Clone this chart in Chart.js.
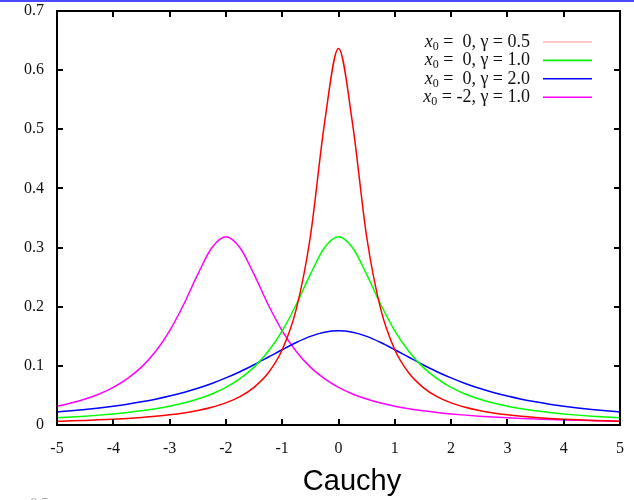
<!DOCTYPE html>
<html>
<head>
<meta charset="utf-8">
<script src="https://cdn.jsdelivr.net/npm/chart.js@4.4.0/dist/chart.umd.min.js"></script>
<style>
    html, body { margin: 0; padding: 0; background: #fff; }
    #wrap { position: relative; width: 634px; height: 500px; }
</style>
</head>
<body>
<div id="wrap"><canvas id="cauchyChart" width="634" height="500"></canvas></div>
<script>
// x positions (shared by all four curves)
const xs = [-5, -4.75, -4.5, -4.25, -4, -3.75, -3.5, -3.25, -3, -2.75, -2.5, -2.25, -2, -1.75, -1.5, -1.25, -1, -0.75, -0.5, -0.25,
    0, 0.25, 0.5, 0.75, 1, 1.25, 1.5, 1.75, 2, 2.25, 2.5, 2.75, 3, 3.25, 3.5, 3.75, 4, 4.25, 4.5, 4.75, 5];

// x0 = 0, gamma = 0.5
const redVals = [0.0063, 0.0070, 0.0078, 0.0087, 0.0098, 0.0111, 0.0127, 0.0147, 0.0172, 0.0204, 0.0245, 0.0300, 0.0374, 0.0480, 0.0637, 0.0878, 0.1273, 0.1959, 0.3183, 0.5093,
    0.6366, 0.5093, 0.3183, 0.1959, 0.1273, 0.0878, 0.0637, 0.0480, 0.0374, 0.0300, 0.0245, 0.0204, 0.0172, 0.0147, 0.0127, 0.0111, 0.0098, 0.0087, 0.0078, 0.0070, 0.0063];
// x0 = 0, gamma = 1.0
const greenVals = [0.0122, 0.0135, 0.0150, 0.0167, 0.0187, 0.0211, 0.0240, 0.0275, 0.0318, 0.0372, 0.0439, 0.0525, 0.0637, 0.0784, 0.0979, 0.1242, 0.1592, 0.2037, 0.2546, 0.2996,
    0.3183, 0.2996, 0.2546, 0.2037, 0.1592, 0.1242, 0.0979, 0.0784, 0.0637, 0.0525, 0.0439, 0.0372, 0.0318, 0.0275, 0.0240, 0.0211, 0.0187, 0.0167, 0.0150, 0.0135, 0.0122];
// x0 = 0, gamma = 2.0
const blueVals = [0.0220, 0.0240, 0.0263, 0.0289, 0.0318, 0.0352, 0.0392, 0.0437, 0.0490, 0.0551, 0.0621, 0.0702, 0.0796, 0.0901, 0.1019, 0.1145, 0.1273, 0.1395, 0.1498, 0.1567,
    0.1592, 0.1567, 0.1498, 0.1395, 0.1273, 0.1145, 0.1019, 0.0901, 0.0796, 0.0702, 0.0621, 0.0551, 0.0490, 0.0437, 0.0392, 0.0352, 0.0318, 0.0289, 0.0263, 0.0240, 0.0220];
// x0 = -2, gamma = 1.0
const magentaVals = [0.0318, 0.0372, 0.0439, 0.0525, 0.0637, 0.0784, 0.0979, 0.1242, 0.1592, 0.2037, 0.2546, 0.2996, 0.3183, 0.2996, 0.2546, 0.2037, 0.1592, 0.1242, 0.0979, 0.0784,
    0.0637, 0.0525, 0.0439, 0.0372, 0.0318, 0.0275, 0.0240, 0.0211, 0.0187, 0.0167, 0.0150, 0.0135, 0.0122, 0.0111, 0.0102, 0.0093, 0.0086, 0.0080, 0.0074, 0.0068, 0.0064];

const x0Labels = ['0', '0', '0', '-2'];
const gammaLabels = ['0.5', '1.0', '2.0', '1.0'];

const xTicks = [-5, -4, -3, -2, -1, 0, 1, 2, 3, 4, 5];
const yTicks = [0, 0.1, 0.2, 0.3, 0.4, 0.5, 0.6, 0.7];
const yTickLabels = ['0', '0.1', '0.2', '0.3', '0.4', '0.5', '0.6', '0.7'];

const lineColors = ['#ff0000', '#00ff00', '#0000ff', '#ff00ff'];
const keyColors = ['#ffb4b4', '#00f000', '#0000ff', '#ff00ff'];

const toPoints = vals => vals.map((v, i) => ({ x: xs[i], y: v }));
const serif = "'Liberation Serif', 'DejaVu Serif', serif";

// gnuplot-like frame, inward ticks, key, caption
const framePlugin = {
    id: 'frame',
    beforeDraw(chart) {
        const ctx = chart.ctx;
        ctx.save();
        ctx.fillStyle = '#fff';
        ctx.fillRect(0, 0, chart.width, chart.height);
        ctx.restore();
    },
    afterDraw(chart) {
        const ctx = chart.ctx;
        const a = chart.chartArea;
        const sx = chart.scales.x, sy = chart.scales.y;
        ctx.save();

        // ticks
        ctx.strokeStyle = '#000';
        ctx.lineWidth = 2;
        ctx.beginPath();
        xTicks.forEach(v => {
            const px = Math.round(sx.getPixelForValue(v));
            ctx.moveTo(px, a.bottom); ctx.lineTo(px, a.bottom - 6);
            ctx.moveTo(px, a.top); ctx.lineTo(px, a.top + 6);
        });
        yTicks.forEach(v => {
            const py = Math.round(sy.getPixelForValue(v));
            ctx.moveTo(a.left, py); ctx.lineTo(a.left + 6, py);
            ctx.moveTo(a.right, py); ctx.lineTo(a.right - 6, py);
        });
        ctx.stroke();

        // border
        ctx.strokeRect(a.left, a.top, a.right - a.left, a.bottom - a.top);

        // key
        const keyRight = 530;
        x0Labels.forEach((x0, i) => {
            const y = 42 + i * 18.4;
            const rest = ' = ' + (x0.length === 1 ? ' ' + x0 : x0) + ', \u03b3 = ' + gammaLabels[i];
            ctx.font = '18px ' + serif;
            const wRest = ctx.measureText(rest).width;
            ctx.font = 'italic 18px ' + serif;
            const wX = ctx.measureText('x').width;
            ctx.font = '12px ' + serif;
            const wSub = ctx.measureText('0').width;
            let cx = keyRight - wRest - wSub - wX;
            ctx.fillStyle = '#111';
            ctx.textBaseline = 'alphabetic';
            ctx.textAlign = 'left';
            ctx.font = 'italic 18px ' + serif;
            ctx.fillText('x', cx, y + 5);
            cx += wX;
            ctx.font = '12px ' + serif;
            ctx.fillText('0', cx, y + 8);
            cx += wSub;
            ctx.font = '18px ' + serif;
            ctx.fillText(rest, cx, y + 5);

            ctx.strokeStyle = keyColors[i];
            ctx.lineWidth = 1.6;
            ctx.beginPath();
            ctx.moveTo(543, y); ctx.lineTo(592, y);
            ctx.stroke();
        });

        // caption
        ctx.fillStyle = '#000';
        ctx.font = "29px 'Liberation Sans', Arial, sans-serif";
        ctx.textAlign = 'center';
        ctx.fillText('Cauchy', 352, 490);

        // cut-off text of the next figure
        ctx.fillStyle = '#aaa';
        ctx.font = '15px ' + serif;
        ctx.textAlign = 'left';
        ctx.fillText('0.5', 30, 508);

        // blue strip at the very top
        ctx.fillStyle = '#4a4aff';
        ctx.fillRect(0, 0, chart.width, 2);
        ctx.restore();
    }
};

const tickFont = { family: serif, size: 16 };

new Chart(document.getElementById('cauchyChart'), {
    type: 'line',
    data: {
        datasets: [
            { data: toPoints(redVals), borderColor: lineColors[0] },
            { data: toPoints(greenVals), borderColor: lineColors[1] },
            { data: toPoints(blueVals), borderColor: lineColors[2] },
            { data: toPoints(magentaVals), borderColor: lineColors[3] }
        ]
    },
    options: {
        responsive: false,
        animation: false,
        devicePixelRatio: 1,
        layout: { padding: { top: 11, right: 14, left: 0, bottom: 0 } },
        elements: {
            point: { radius: 0 },
            line: { borderWidth: 1.5, cubicInterpolationMode: 'monotone', fill: false }
        },
        plugins: {
            legend: { display: false },
            tooltip: { enabled: false },
            title: { display: false }
        },
        scales: {
            x: {
                type: 'linear',
                min: -5,
                max: 5,
                grid: { display: false, drawTicks: false },
                border: { display: false },
                ticks: { font: tickFont, color: '#111', padding: 14, maxRotation: 0, autoSkip: false },
                afterBuildTicks: s => { s.ticks = xTicks.map(v => ({ value: v })); },
                afterFit: s => { s.height = 75; s.paddingLeft = 0; s.paddingRight = 0; }
            },
            y: {
                type: 'linear',
                min: 0,
                max: 0.7,
                grid: { display: false, drawTicks: false },
                border: { display: false },
                ticks: {
                    font: tickFont, color: '#111', padding: 13, autoSkip: false,
                    callback: (v) => yTickLabels[yTicks.findIndex(t => Math.abs(t - v) < 1e-9)]
                },
                afterBuildTicks: s => { s.ticks = yTicks.map(v => ({ value: v })); },
                afterFit: s => { s.width = 57; s.paddingTop = 0; s.paddingBottom = 0; }
            }
        }
    },
    plugins: [framePlugin]
});
</script>
</body>
</html>
